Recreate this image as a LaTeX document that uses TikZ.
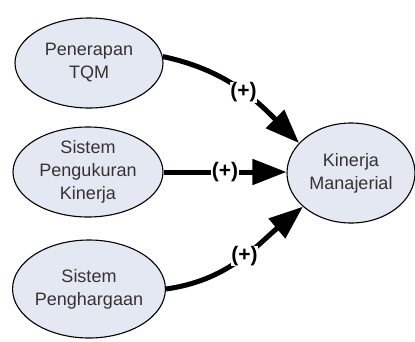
\documentclass[tikz,border=0pt]{standalone}
\usepackage{fontspec}
\setmainfont{Liberation Sans}
\usetikzlibrary{arrows.meta,shapes.geometric}
\definecolor{varfill}{RGB}{227,232,243}
\definecolor{vartext}{RGB}{51,51,51}

\begin{document}
\begin{tikzpicture}[x=1pt,y=1pt,
   var/.style={draw,ellipse,line width=1.1pt,fill=varfill,text=vartext,align=center,inner sep=0pt,font=\fontsize{18}{23}\selectfont},
   arr/.style={line width=5pt,-{Triangle[length=34pt,width=25pt]}},
   sgn/.style={fill=white,inner sep=0.5pt,font=\fontsize{21}{23}\selectfont\bfseries}]
  \useasboundingbox (0,0) rectangle (415,-341);
  \node[var,minimum width=148,minimum height=90] (tqm) at (89,-63) {Penerapan\\TQM};
  \node[var,minimum width=150,minimum height=90] (spk) at (88,-172) {Sistem\\Pengukuran\\Kinerja};
  \node[var,minimum width=150,minimum height=98] (sph) at (89,-289) {Sistem\\Penghargaan};
  \node[var,minimum width=128,minimum height=100] (kin) at (351,-173) {Kinerja\\Manajerial};
  \draw[arr] (tqm.5) to[out=-12,in=135] node[sgn,pos=0.55] {(+)} (kin.150);
  \draw[arr] (spk.east) -- node[sgn,pos=0.5] {(+)} (spk.east -| kin.west);
  \draw[arr] (sph.east) to[out=8,in=220] node[sgn,pos=0.54] {(+)} (kin.215);
\end{tikzpicture}
\end{document}
